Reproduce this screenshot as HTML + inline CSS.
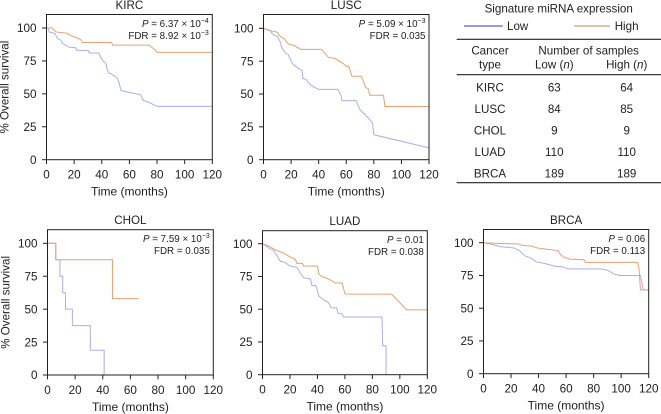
<!DOCTYPE html>
<html lang="en">
<head>
<meta charset="utf-8">
<title>Survival curves by signature miRNA expression</title>
<style>
html,body{margin:0;padding:0;background:#fff;}
svg{display:block;font-family:"Liberation Sans",sans-serif;fill:#222;}
text{fill:#222;}
</style>
</head>
<body>
<svg id="fig" width="661" height="414" viewBox="0 0 661 414" xmlns="http://www.w3.org/2000/svg">
  <g>
    <text x="558.7" y="12.5" font-size="11.6" text-anchor="middle">Signature miRNA expression</text>
    <line x1="464" x2="502.7" y1="26" y2="26" stroke="#3a34c4" stroke-width="1"/>
    <text x="507" y="30" font-size="11.6">Low</text>
    <line x1="574" x2="610" y1="26" y2="26" stroke="#cda27c" stroke-width="1.3"/>
    <text x="614.7" y="30" font-size="11.6">High</text>
  </g>
  <g font-size="11.6" text-anchor="middle">
    <line x1="456.7" x2="661" y1="39.3" y2="39.3" stroke="#222" stroke-width="1.2"/>
    <line x1="456.7" x2="661" y1="74.7" y2="74.7" stroke="#222" stroke-width="1.2"/>
    <line x1="456.7" x2="661" y1="182.7" y2="182.7" stroke="#222" stroke-width="1.2"/>
    <text x="490" y="54.5">Cancer</text>
    <text x="490" y="68.5">type</text>
    <text x="588.7" y="54.5">Number of samples</text>
    <text x="554.3" y="68.5">Low (<tspan font-style="italic">n</tspan>)</text>
    <text x="626.7" y="68.5">High (<tspan font-style="italic">n</tspan>)</text>
    <text x="490" y="91.5">KIRC</text>
    <text x="554.3" y="91.5">63</text>
    <text x="626.7" y="91.5">64</text>
    <text x="490" y="113">LUSC</text>
    <text x="554.3" y="113">84</text>
    <text x="626.7" y="113">85</text>
    <text x="490" y="134.5">CHOL</text>
    <text x="554.3" y="134.5">9</text>
    <text x="626.7" y="134.5">9</text>
    <text x="490" y="156">LUAD</text>
    <text x="554.3" y="156">110</text>
    <text x="626.7" y="156">110</text>
    <text x="490" y="177.7">BRCA</text>
    <text x="554.3" y="177.7">189</text>
    <text x="626.7" y="177.7">189</text>
  </g>
</svg>
<script>
var xTickLabels = [0, 20, 40, 60, 80, 100, 120];
var yTickLabels = [0, 25, 50, 75, 100];

var kircLowMonths = [0,1,2,6,8,10,12,14,16,21,22,30,31,38,39,41,43,44,45,47,50,51,52,54,60,68,70,73,76,80,120];
var kircLowSurvival = [100,100,97,96,92,91,88,87,85.5,85,83,83,81,81,78,75,73,68,66,65,63,62,60,52.5,51,49.5,45,44,42.5,40.5,40.5];
var kircHighMonths = [0,4,7,15,18,22,25,26,47,48,74,78,80,120];
var kircHighSurvival = [100,100,97,96,94,92.5,91,89,89,87,87,84,81.5,81.5];

var luscLowMonths = [0,5,7,10,12,13,14,16,18,20,22,26,28,28.5,31,33,37,40,54,56,57,67,70,75,79,80,120];
var luscLowSurvival = [100,98,95,94,90,86,84,81,80,75,72,69,68,62,61,58,55,53.5,53.5,49,45,45,38,33,28,19,9];
var luscHighMonths = [0,6,10,12,15,18,22,27,42,47,52,58,60,62,64,71,74,76,77,87,88,120];
var luscHighSurvival = [100,98,97,94,92,88,87,84,84,78,77,73,71,71,63.5,63.5,55,54,49,49,40.5,40.5];

var cholLowMonths = [0,6,6,9,9,11,11,13,13,18,18,31,31,41,41];
var cholLowSurvival = [100,100,87.5,87.5,75,75,62.5,62.5,50,50,37.5,37.5,18.75,18.75,0];
var cholHighMonths = [0,6,6,47,47,66];
var cholHighSurvival = [100,100,87.5,87.5,58,58];

var luadLowMonths = [0,3,5,8,11,13,16,20,25,28,30,35,36,39,41,45,48,50,54,55,58,59,87,87.5,90,90];
var luadLowSurvival = [100,98,96.5,95,90,86.5,86,83,82,77,74,73,68,68,60,57,55,51,51,47,46.5,44,44,22,22,0];
var luadHighMonths = [0,5,10,15,20,24,25,29,30,40,41,43,46,50,53,58,60,61,94,105,120];
var luadHighSurvival = [100,98,95,93,90,88,85,85,83,83,77,75,74,72,70,70,62,61.5,61.5,49.5,49.5];

var brcaLowMonths = [0,5,12,22,26,30,35,38,45,52,58,61,85,90,95,99,114,115,116,120];
var brcaLowSurvival = [100,99,97,96,94,90,88,85.5,84,82,81.5,80,80,79,76,75,75,70,64,64];
var brcaHighMonths = [0,10,26,28,35,39,46,54,56,58,63,73,74,112,113,114,120];
var brcaHighSurvival = [100,99.5,99,98,97.5,96,95,94,91,89,87.5,87,85,85,80,64,64];

var NS = 'http://www.w3.org/2000/svg';
var fig = document.getElementById('fig');
var LOW_COLOR = '#aeacec';
var HIGH_COLOR = '#ea9f72';

function make(tag, parent, attrs, content) {
  var el = document.createElementNS(NS, tag);
  for (var k in attrs) el.setAttribute(k, attrs[k]);
  if (content !== undefined) el.textContent = content;
  parent.appendChild(el);
  return el;
}

function drawSeries(group, times, values, xs, ys, color, seriesName) {
  var pts = [];
  for (var i = 0; i < times.length; i++) {
    pts.push(xs(times[i]).toFixed(2) + ',' + ys(values[i]).toFixed(2));
  }
  var line = make('polyline', group, {points: pts.join(' '), fill: 'none', stroke: color, 'stroke-width': 1});
  
  
}

function drawPanel(p) {
  var xs = function (v) { return p.left + (p.right - p.left) * v / 120; };
  var ys = function (v) { return p.y0 + (p.y100 - p.y0) * v / 100; };
  var id = p.title.toLowerCase();

  var g = make('g', fig, {});
  
  

  var title = make('text', g, {x: (p.left + p.right) / 2, y: p.top - 5.7, 'font-size': 11.6, 'text-anchor': 'middle'}, p.title);
  
  

  drawSeries(g, p.lowT, p.lowS, xs, ys, LOW_COLOR, id + '-low-curve');
  drawSeries(g, p.highT, p.highS, xs, ys, HIGH_COLOR, id + '-high-curve');

  var frame = make('rect', g, {x: p.left, y: p.top, width: p.right - p.left, height: p.y0 - p.top, fill: 'none', stroke: '#222', 'stroke-width': 1});
  
  

  xTickLabels.forEach(function (v) {
    var tick = make('line', g, {x1: xs(v), x2: xs(v), y1: p.y0, y2: p.y0 + 4.3, stroke: '#222', 'stroke-width': 1});
    
    
    var label = make('text', g, {x: xs(v), y: p.y0 + 19, 'font-size': 11.7, 'text-anchor': 'middle'}, String(v));
    
    
  });

  yTickLabels.forEach(function (v) {
    var tick = make('line', g, {x1: p.left - 4.5, x2: p.left, y1: ys(v), y2: ys(v), stroke: '#222', 'stroke-width': 1});
    
    
    var label = make('text', g, {x: p.left - 10, y: ys(v) + 4.2, 'font-size': 11.7, 'text-anchor': 'end'}, String(v));
    
    
  });

  var xTitle = make('text', g, {x: (p.left + p.right) / 2, y: p.y0 + 36, 'font-size': 12, 'text-anchor': 'middle'}, 'Time (months)');
  
  

  if (p.showY) {
    var cy = (p.top + p.y0) / 2;
    var yTitle = make('text', g, {x: 0, y: 0, transform: 'translate(' + (p.left - 38) + ' ' + cy + ') rotate(-90)', 'font-size': 11.6, 'text-anchor': 'middle'}, '% Overall survival');
    
    
  }

  var annX = p.right - 3.5;
  var pText = make('text', g, {x: annX, y: p.top + 12.5, 'font-size': 9.8, 'text-anchor': 'end'});
  
  
  make('tspan', pText, {'font-style': 'italic'}, 'P');
  make('tspan', pText, {}, ' = ' + p.pVal);
  if (p.pExp) {
    make('tspan', pText, {}, ' × 10');
    make('tspan', pText, {'font-size': 7, dy: -4}, p.pExp);
  }

  var fText = make('text', g, {x: annX, y: p.top + 24.5, 'font-size': 9.8, 'text-anchor': 'end'});
  
  
  make('tspan', fText, {}, 'FDR = ' + p.fdrVal);
  if (p.fdrExp) {
    make('tspan', fText, {}, ' × 10');
    make('tspan', fText, {'font-size': 7, dy: -4}, p.fdrExp);
  }
}

drawPanel({title:'KIRC', left:46.5, right:212.3, top:14.5, y0:159.7, y100:28, showY:true,
  lowT:kircLowMonths, lowS:kircLowSurvival, highT:kircHighMonths, highS:kircHighSurvival,
  pVal:'6.37', pExp:'−4', fdrVal:'8.92', fdrExp:'−3'});
drawPanel({title:'LUSC', left:263.5, right:429, top:14.5, y0:159.7, y100:28.3, showY:false,
  lowT:luscLowMonths, lowS:luscLowSurvival, highT:luscHighMonths, highS:luscHighSurvival,
  pVal:'5.09', pExp:'−3', fdrVal:'0.035'});
drawPanel({title:'CHOL', left:47.5, right:213.3, top:229.7, y0:375, y100:243.3, showY:true,
  lowT:cholLowMonths, lowS:cholLowSurvival, highT:cholHighMonths, highS:cholHighSurvival,
  pVal:'7.59', pExp:'−3', fdrVal:'0.035'});
drawPanel({title:'LUAD', left:262.5, right:427.3, top:230.7, y0:374.7, y100:243.7, showY:false,
  lowT:luadLowMonths, lowS:luadLowSurvival, highT:luadHighMonths, highS:luadHighSurvival,
  pVal:'0.01', fdrVal:'0.038'});
drawPanel({title:'BRCA', left:483.5, right:648.7, top:229.5, y0:373.7, y100:242.7, showY:false,
  lowT:brcaLowMonths, lowS:brcaLowSurvival, highT:brcaHighMonths, highS:brcaHighSurvival,
  pVal:'0.06', fdrVal:'0.113'});
</script>
</body>
</html>
